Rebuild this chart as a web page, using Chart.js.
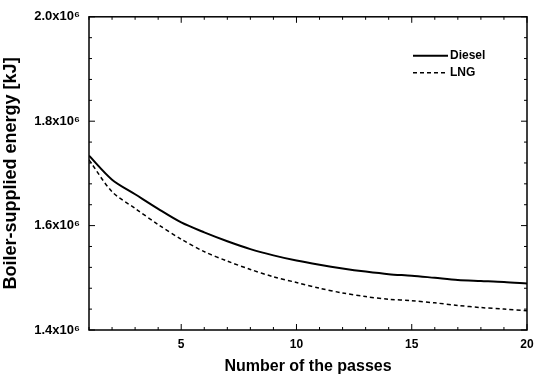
<!DOCTYPE html>
<html>
<head>
<meta charset="utf-8">
<script src="https://cdn.jsdelivr.net/npm/chart.js@4.4.1/dist/chart.umd.min.js"></script>
<style>
    html, body { margin:0; padding:0; background:#fff; }
    #wrap { width:535px; height:376px; position:relative; }
</style>
</head>
<body>
<div id="wrap"><canvas id="energyChart"></canvas></div>

<script>

// =======================================================
// Données (x10^6 kJ)
// =======================================================

const passes = [1,2,3,4,5,6,7,8,9,10,11,12,13,14,15,16,17,18,19,20];

const diesel = [1.734,1.688,1.660,1.632,1.606,1.587,1.570,1.555,1.543,1.533,
                1.525,1.518,1.512,1.507,1.504,1.500,1.496,1.494,1.492,1.489];

const lng    = [1.726,1.665,1.633,1.602,1.574,1.550,1.532,1.516,1.502,1.491,
                1.480,1.471,1.464,1.459,1.456,1.452,1.447,1.443,1.440,1.437];

const xTicks = [5,10,15,20];
const yTicks = [1.4,1.6,1.8,2.0];

const FONT = "'Liberation Sans', Arial, sans-serif";


// =======================================================
// Cadre + graduations intérieures
// =======================================================

const frameTicks = {

    id:'frameTicks',

    afterDraw(chart){

        const {ctx, chartArea:a, scales:{x,y}} = chart;

        ctx.save();
        ctx.strokeStyle = '#000';
        ctx.lineWidth = 1.5;
        ctx.strokeRect(a.left, a.top, a.right-a.left, a.bottom-a.top);

        ctx.lineWidth = 1;
        ctx.beginPath();

        for (let v=1; v<=20; v++){
            const px = x.getPixelForValue(v);
            const len = (v%5===0) ? 6 : 3;
            ctx.moveTo(px, a.bottom); ctx.lineTo(px, a.bottom-len);
            ctx.moveTo(px, a.top);    ctx.lineTo(px, a.top+len);
        }

        for (let i=0; i<=15; i++){
            const v = 1.4 + i*0.04;
            const py = y.getPixelForValue(v*1e6);
            const len = (i%5===0) ? 6 : 3;
            ctx.moveTo(a.left, py);  ctx.lineTo(a.left+len, py);
            ctx.moveTo(a.right, py); ctx.lineTo(a.right-len, py);
        }

        ctx.stroke();
        ctx.restore();

    }

};


// =======================================================
// Légende dans la zone du graphique
// =======================================================

const innerLegend = {

    id:'innerLegend',

    afterDraw(chart){

        const {ctx, chartArea:a} = chart;

        ctx.save();
        ctx.font = "bold 12px " + FONT;
        ctx.textBaseline = 'middle';
        ctx.fillStyle = '#000';

        chart.data.datasets.forEach((ds,i)=>{

            const yy = a.top + 39 + i*17;
            const x0 = a.right - 114;

            ctx.strokeStyle = '#000';
            ctx.lineWidth = ds.borderWidth;
            ctx.setLineDash(ds.borderDash || []);
            ctx.beginPath();
            ctx.moveTo(x0, yy);
            ctx.lineTo(x0+35, yy);
            ctx.stroke();
            ctx.setLineDash([]);

            ctx.fillText(ds.label, x0+37, yy);

        });

        ctx.restore();

    }

};


// =======================================================
// Graphique
// =======================================================

new Chart(document.getElementById("energyChart"),{

    type:"line",

    data:{

        labels:passes,

        datasets:[

            {
                label:"Diesel",
                data:passes.map((p,i)=>({x:p, y:diesel[i]*1e6})),
                borderColor:"#000",
                borderWidth:2,
                pointRadius:0,
                tension:0.3
            },

            {
                label:"LNG",
                data:passes.map((p,i)=>({x:p, y:lng[i]*1e6})),
                borderColor:"#000",
                borderWidth:1.5,
                borderDash:[4,3],
                pointRadius:0,
                tension:0.3
            }

        ]

    },

    options:{

        responsive:true,

        maintainAspectRatio:false,

        animation:false,

        layout:{ padding:{ top:16, right:0, left:0, bottom:0 } },

        plugins:{
            legend:{display:false},
            tooltip:{enabled:false}
        },

        scales:{

            x:{
                type:"linear",
                min:1,
                max:20,
                afterBuildTicks:s=>{ s.ticks = xTicks.map(v=>({value:v})); },
                afterFit:s=>{ s.height = 46; s.paddingLeft = 0; s.paddingRight = 8; },
                grid:{display:false, drawTicks:false},
                border:{display:false},
                ticks:{
                    padding:7,
                    color:"#000",
                    font:{family:FONT, size:12, weight:"bold"}
                },
                title:{
                    display:true,
                    text:"Number of the passes",
                    color:"#000",
                    padding:{top:3, bottom:0},
                    font:{family:FONT, size:16, weight:"bold"}
                }
            },

            y:{
                min:1.4e6,
                max:2.0e6,
                afterBuildTicks:s=>{ s.ticks = yTicks.map(v=>({value:v*1e6})); },
                afterFit:s=>{ s.width = 89; },
                grid:{display:false, drawTicks:false},
                border:{display:false},
                ticks:{
                    padding:9,
                    color:"#000",
                    font:{family:FONT, size:13, weight:"bold"},
                    callback:v=>(v/1e6).toFixed(1)+"x10\u2076"
                },
                title:{
                    display:true,
                    text:"Boiler-supplied energy [kJ]",
                    color:"#000",
                    padding:{top:0, bottom:4},
                    font:{family:FONT, size:18, weight:"bold"}
                }
            }

        }

    },

    plugins:[frameTicks, innerLegend]

});

</script>
</body>
</html>
